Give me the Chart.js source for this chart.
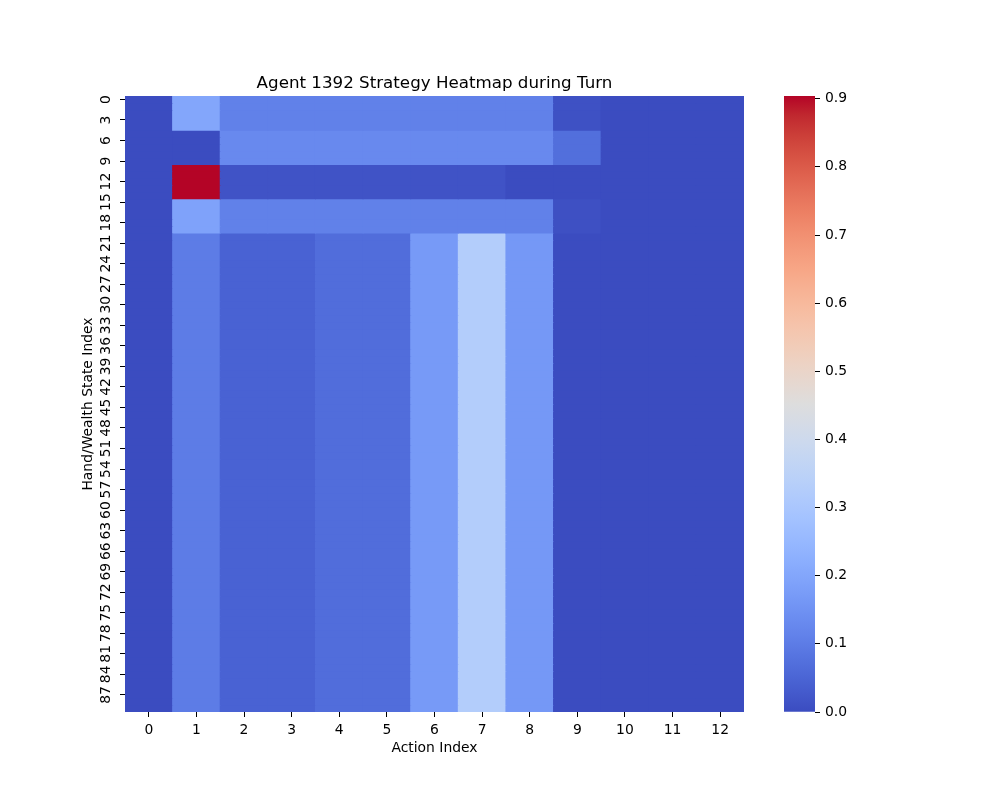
<!DOCTYPE html>
<html>
<head>
<meta charset="utf-8">
<title>Agent 1392 Strategy Heatmap during Turn</title>
<script src="https://cdn.jsdelivr.net/npm/chart.js"></script>
<style>
  html, body { margin: 0; padding: 0; background: #fff; }
  #wrap { position: relative; width: 1000px; height: 800px; overflow: hidden; }
  #heatmap { position: absolute; left: 0; top: 0; }
  #colorbar { position: absolute; left: 760px; top: 0; }
</style>
</head>
<body>
<div id="wrap">
  <canvas id="heatmap" width="869" height="800"></canvas>
  <canvas id="colorbar" width="240" height="800"></canvas>
</div>
<script>
var actionLabels = ['0', '1', '2', '3', '4', '5', '6', '7', '8', '9', '10', '11', '12'];
var stateCount = 90;
var stateTickLabels = [0, 3, 6, 9, 12, 15, 18, 21, 24, 27, 30, 33, 36, 39, 42, 45,
                       48, 51, 54, 57, 60, 63, 66, 69, 72, 75, 78, 81, 84, 87];

// the states come in blocks of identical rows; first row of each block
var blockStarts = [0, 5, 10, 15, 20];
var rows0to4   = [0.0, 0.20, 0.11, 0.11, 0.11, 0.11, 0.11, 0.11, 0.11, 0.01, 0.0, 0.0, 0.0];
var rows5to9   = [0.0, 0.0, 0.13, 0.13, 0.13, 0.13, 0.13, 0.13, 0.13, 0.072, 0.0, 0.0, 0.0];
var rows10to14 = [0.0, 0.904, 0.015, 0.015, 0.015, 0.015, 0.015, 0.015, 0.0, 0.0, 0.0, 0.0, 0.0];
var rows15to19 = [0.0, 0.19, 0.11, 0.11, 0.11, 0.11, 0.11, 0.11, 0.11, 0.008, 0.0, 0.0, 0.0];
var rows20to89 = [0.0, 0.10, 0.045, 0.045, 0.068, 0.068, 0.17, 0.325, 0.165, 0.0, 0.0, 0.0, 0.0];
var blockRows = [rows0to4, rows5to9, rows10to14, rows15to19, rows20to89];

var colorbarTicks = [0, 0.1, 0.2, 0.3, 0.4, 0.5, 0.6, 0.7, 0.8, 0.9];
var vmin = 0;
var vmax = 0.904;

// matplotlib "coolwarm" (Moreland), 33 stops
var coolwarm = [
  [59, 76, 192], [68, 90, 204], [77, 104, 215], [87, 117, 225], [98, 130, 234],
  [108, 142, 241], [119, 154, 247], [130, 165, 251], [141, 176, 254], [152, 185, 255],
  [163, 194, 255], [174, 201, 253], [184, 208, 249], [194, 213, 244], [204, 217, 238],
  [213, 219, 230], [221, 221, 221], [229, 216, 209], [236, 211, 197], [241, 204, 184],
  [245, 196, 172], [247, 187, 159], [247, 177, 147], [247, 166, 134], [244, 154, 123],
  [241, 141, 111], [236, 127, 99], [229, 112, 89], [222, 96, 77], [213, 80, 66],
  [203, 62, 56], [192, 40, 47], [180, 4, 38]
];

function coolwarmColor(v) {
  var t = (v - vmin) / (vmax - vmin);
  t = Math.max(0, Math.min(1, t)) * (coolwarm.length - 1);
  var i = Math.min(Math.floor(t), coolwarm.length - 2);
  var f = t - i;
  var a = coolwarm[i], b = coolwarm[i + 1];
  return 'rgb(' + Math.round(a[0] + (b[0] - a[0]) * f) + ',' +
                  Math.round(a[1] + (b[1] - a[1]) * f) + ',' +
                  Math.round(a[2] + (b[2] - a[2]) * f) + ')';
}

function valuesForState(r) {
  var b = 0;
  for (var i = 0; i < blockStarts.length; i++) {
    if (r >= blockStarts[i]) b = i;
  }
  return blockRows[b];
}

Chart.defaults.font.family = "'DejaVu Sans', sans-serif";
Chart.defaults.color = '#000';

// one dataset per state row, one floating bar per action
var datasets = [];
for (var r = 0; r < stateCount; r++) {
  var vals = valuesForState(r);
  datasets.push({
    label: 'state ' + r,
    data: actionLabels.map(function () { return [r, r + 1]; }),
    backgroundColor: vals.map(coolwarmColor),
    borderWidth: 0,
    barPercentage: 1,
    categoryPercentage: 1,
    grouped: false,
    inflateAmount: 0.5
  });
}

new Chart(document.getElementById('heatmap'), {
  type: 'bar',
  data: {
    labels: actionLabels,
    datasets: datasets
  },
  options: {
    responsive: false,
    animation: false,
    layout: {
      padding: { left: 0, right: 125, top: 74, bottom: 40 }
    },
    plugins: {
      legend: { display: false },
      tooltip: { enabled: false },
      title: {
        display: true,
        fullSize: false,
        text: 'Agent 1392 Strategy Heatmap during Turn',
        color: '#000',
        font: { size: 16.7, weight: 'normal' },
        padding: { top: 0, bottom: 2 }
      }
    },
    scales: {
      x: {
        type: 'category',
        offset: true,
        afterFit: function (scale) { scale.height = 48; },
        border: { display: false },
        grid: { offset: false, drawOnChartArea: false, tickLength: 5, tickColor: '#000' },
        ticks: { padding: 5, maxRotation: 0, autoSkip: false, font: { size: 13.9 } },
        title: {
          display: true,
          text: 'Action Index',
          font: { size: 13.9 },
          padding: { top: 0, bottom: 3 }
        }
      },
      y: {
        type: 'linear',
        reverse: true,
        min: 0,
        max: stateCount,
        afterBuildTicks: function (scale) {
          scale.ticks = stateTickLabels.map(function (s) { return { value: s + 0.5 }; });
        },
        afterFit: function (scale) { scale.width = 125; },
        border: { display: false },
        grid: { drawOnChartArea: false, tickLength: 5, tickColor: '#000' },
        ticks: {
          autoSkip: false,
          minRotation: 90,
          maxRotation: 90,
          crossAlign: 'center',
          padding: 5,
          font: { size: 13.9 },
          callback: function (v, i) { return String(stateTickLabels[i]); }
        },
        title: {
          display: true,
          text: 'Hand/Wealth State Index',
          font: { size: 13.9 },
          padding: { top: 80, bottom: 0 }
        }
      }
    }
  }
});

new Chart(document.getElementById('colorbar'), {
  type: 'bar',
  data: {
    labels: ['scale'],
    datasets: [{
      data: [[vmin, vmax]],
      backgroundColor: function (ctx) {
        var chart = ctx.chart;
        if (!chart.chartArea || !chart.scales.y) return coolwarmColor(vmin);
        var y = chart.scales.y;
        var g = chart.ctx.createLinearGradient(0, y.getPixelForValue(vmin), 0, y.getPixelForValue(vmax));
        for (var i = 0; i < coolwarm.length; i++) {
          var c = coolwarm[i];
          g.addColorStop(i / (coolwarm.length - 1), 'rgb(' + c[0] + ',' + c[1] + ',' + c[2] + ')');
        }
        return g;
      },
      borderWidth: 0,
      barPercentage: 1,
      categoryPercentage: 1
    }]
  },
  options: {
    responsive: false,
    animation: false,
    layout: {
      padding: { left: 24, right: 125, top: 96, bottom: 88 }
    },
    plugins: {
      legend: { display: false },
      tooltip: { enabled: false }
    },
    scales: {
      x: { display: false },
      y: {
        position: 'right',
        min: vmin,
        max: vmax,
        afterBuildTicks: function (scale) {
          scale.ticks = colorbarTicks.map(function (v) { return { value: v }; });
        },
        afterFit: function (scale) { scale.width = 60; },
        border: { display: false },
        grid: { drawOnChartArea: false, tickLength: 5, tickColor: '#000' },
        ticks: {
          padding: 5,
          font: { size: 13.9 },
          callback: function (v, i) { return colorbarTicks[i].toFixed(1); }
        }
      }
    }
  }
});
</script>
</body>
</html>
